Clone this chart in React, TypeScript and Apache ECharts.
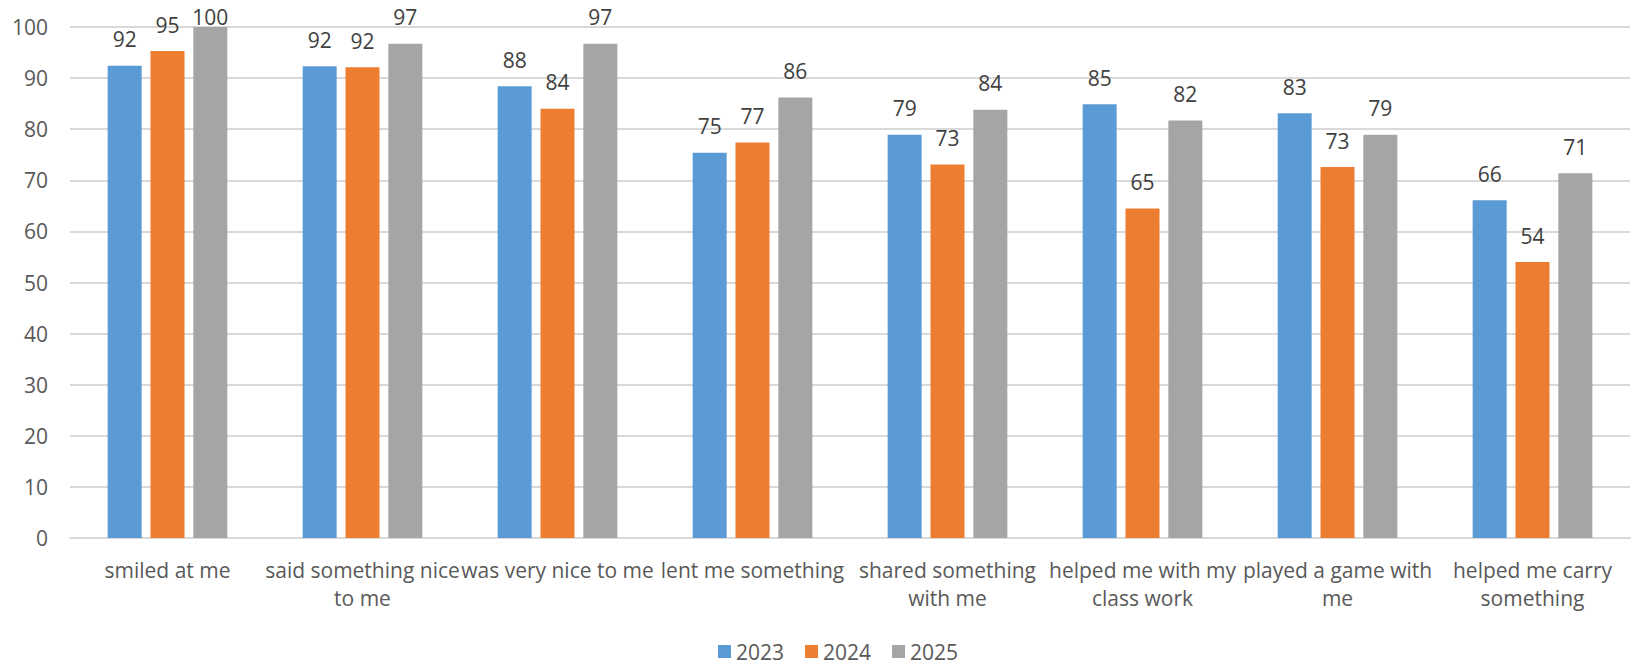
import React, { useEffect, useRef } from "react";
import * as echarts from "echarts";

const categories = [
  "smiled at me",
  "said something nice\nto me",
  "was very nice to me",
  "lent me something",
  "shared something\nwith me",
  "helped me with my\nclass work",
  "played a game with\nme",
  "helped me carry\nsomething",
];
const seriesNames = ["2023", "2024", "2025"];
const values2023 = [92.4, 92.3, 88.4, 75.4, 78.9, 84.9, 83.1, 66.1];
const values2024 = [95.3, 92.1, 84.0, 77.4, 73.1, 64.5, 72.6, 54.0];
const values2025 = [100, 96.7, 96.7, 86.2, 83.8, 81.7, 78.9, 71.4];
const colors = ["#5b9bd5", "#ed7d31", "#a5a5a5"];

const FONT = "Open Sans";
const FS = 21;
const GRID_TOP = 27;
const GRID_BOTTOM = 132;
const HEIGHT = 670;
const Y_MAX = 100;

export default function App() {
  const ref = useRef<HTMLDivElement>(null);
  useEffect(() => {
    if (!ref.current) return;
    const chart = echarts.init(ref.current, undefined, { renderer: "svg" });
    const data = [values2023, values2024, values2025];
    const plotH = HEIGHT - GRID_TOP - GRID_BOTTOM;
    // keep labels inside the chart area (like the spreadsheet does) by shrinking the gap when needed
    const labelDistance = (v: number) => {
      const barTop = GRID_TOP + ((Y_MAX - v) / Y_MAX) * plotH;
      return Math.max(0, Math.min(16, barTop - FS - 6));
    };
    chart.setOption({
      animation: false,
      textStyle: { fontFamily: FONT },
      grid: { left: 70, right: 10, top: GRID_TOP, bottom: GRID_BOTTOM, containLabel: false },
      legend: {
        data: seriesNames,
        left: 713,
        top: 636,
        itemWidth: 13,
        itemHeight: 13,
        itemGap: 21,
        icon: "rect",
        textStyle: { fontFamily: FONT, fontSize: FS, color: "#595959" },
      },
      xAxis: {
        type: "category",
        data: categories,
        axisLine: { show: true, lineStyle: { color: "#d9d9d9", width: 2 } },
        axisTick: { show: false },
        axisLabel: {
          interval: 0,
          fontFamily: FONT,
          fontSize: FS,
          color: "#595959",
          lineHeight: 28,
          margin: 18,
        },
      },
      yAxis: {
        type: "value",
        min: 0,
        max: Y_MAX,
        interval: 10,
        axisLine: { show: false },
        axisTick: { show: false },
        splitLine: { lineStyle: { color: "#d9d9d9", width: 2 } },
        axisLabel: { fontFamily: FONT, fontSize: FS, color: "#595959", margin: 22 },
      },
      series: seriesNames.map((name, i) => ({
        name,
        type: "bar",
        data: data[i].map((v) => ({ value: v, label: { distance: labelDistance(v) } })),
        barWidth: 34,
        barGap: "26%",
        itemStyle: { color: colors[i] },
        label: {
          show: true,
          position: "top",
          fontFamily: FONT,
          fontSize: FS,
          color: "#404040",
          formatter: (p: any) => String(Math.round(p.value)),
        },
      })),
    });
    return () => chart.dispose();
  }, []);
  return (
    <div
      ref={ref}
      style={{ position: "absolute", left: 0, top: 0, width: 1640, height: HEIGHT }}
    />
  );
}
